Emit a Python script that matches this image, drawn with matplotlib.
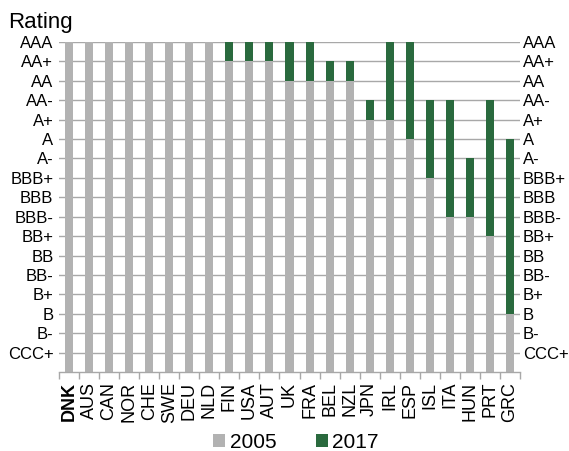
import matplotlib
matplotlib.use("Agg")
import matplotlib.pyplot as plt
from matplotlib.patches import Patch
import numpy as np

plt.rcParams['font.family'] = ['Liberation Sans', 'DejaVu Sans']

rating_scale = ["CCC+", "B-", "B", "B+", "BB-", "BB", "BB+", "BBB-", "BBB",
                "BBB+", "A-", "A", "A+", "AA-", "AA", "AA+", "AAA"]

countries = ["DNK", "AUS", "CAN", "NOR", "CHE", "SWE", "DEU", "NLD", "FIN", "USA",
             "AUT", "UK", "FRA", "BEL", "NZL", "JPN", "IRL", "ESP", "ISL", "ITA",
             "HUN", "PRT", "GRC"]

# lower (grey) rating and upper (top of green segment) rating
rating_low = ["AAA", "AAA", "AAA", "AAA", "AAA", "AAA", "AAA", "AAA", "AA+", "AA+",
              "AA+", "AA", "AA", "AA", "AA", "A+", "A+", "A", "BBB+", "BBB-",
              "BBB-", "BB+", "B"]
rating_high = ["AAA", "AAA", "AAA", "AAA", "AAA", "AAA", "AAA", "AAA", "AAA", "AAA",
               "AAA", "AAA", "AAA", "AA+", "AA+", "AA-", "AAA", "AAA", "AA-", "AA-",
               "A-", "AA-", "A"]

legend_labels = ["2005", "2017"]

grey = "#b2b2b2"
green = "#2a6a3e"
gridc = "#a8a8a8"

idx = {r: i + 1 for i, r in enumerate(rating_scale)}
low = np.array([idx[r] for r in rating_low])
high = np.array([idx[r] for r in rating_high])

fig = plt.figure(figsize=(5.69, 4.51), dpi=100)
ax = fig.add_axes([59/569, 1 - 372/451, 461/569, 330/451])

x = np.arange(len(countries))
ax.bar(x, low, width=0.4, color=grey, zorder=2)
ax.bar(x, high - low, bottom=low, width=0.4, color=green, zorder=2)

ax.set_xlim(-0.5, len(countries) - 0.5)
ax.set_ylim(0, 17)
ax.set_yticks(np.arange(1, 18))
ax.set_yticklabels(rating_scale)
ax.yaxis.grid(True, color=gridc, linewidth=1.0, zorder=0)
ax.set_axisbelow(True)
ax.tick_params(axis='y', length=0, labelsize=12, pad=4, labelleft=True, labelright=False)
ax2 = ax.twinx()
ax2.set_ylim(0, 17)
ax2.set_yticks(np.arange(1, 18))
ax2.set_yticklabels(rating_scale)
ax2.tick_params(axis='y', length=0, labelsize=12, pad=2)
for s in ['left', 'right', 'top', 'bottom']:
    ax2.spines[s].set_visible(False)

ax.set_xticks(x)
ax.set_xticklabels(countries, rotation=90, fontsize=13)
ax.get_xticklabels()[0].set_fontweight('bold')
ax.set_xticks(np.arange(-0.5, len(countries)), minor=True)
ax.tick_params(axis='x', which='major', length=0, pad=7)
ax.tick_params(axis='x', which='minor', length=5, color=gridc, width=1.0)

for s in ['left', 'right', 'top']:
    ax.spines[s].set_visible(False)
ax.spines['bottom'].set_color(gridc)
ax.spines['bottom'].set_linewidth(1.0)

fig.text(8/569, 1 - 28/451, "Rating", fontsize=16, va='baseline', ha='left')

handles = [Patch(facecolor=grey, edgecolor='none'), Patch(facecolor=green, edgecolor='none')]
fig.legend(handles, legend_labels, loc='center', bbox_to_anchor=(0.52, 1 - 442/451),
           ncol=2, frameon=False, fontsize=15, handlelength=0.6, handleheight=0.6,
           handletextpad=0.2, columnspacing=1.9)

fig.savefig("out.png", dpi=100)
